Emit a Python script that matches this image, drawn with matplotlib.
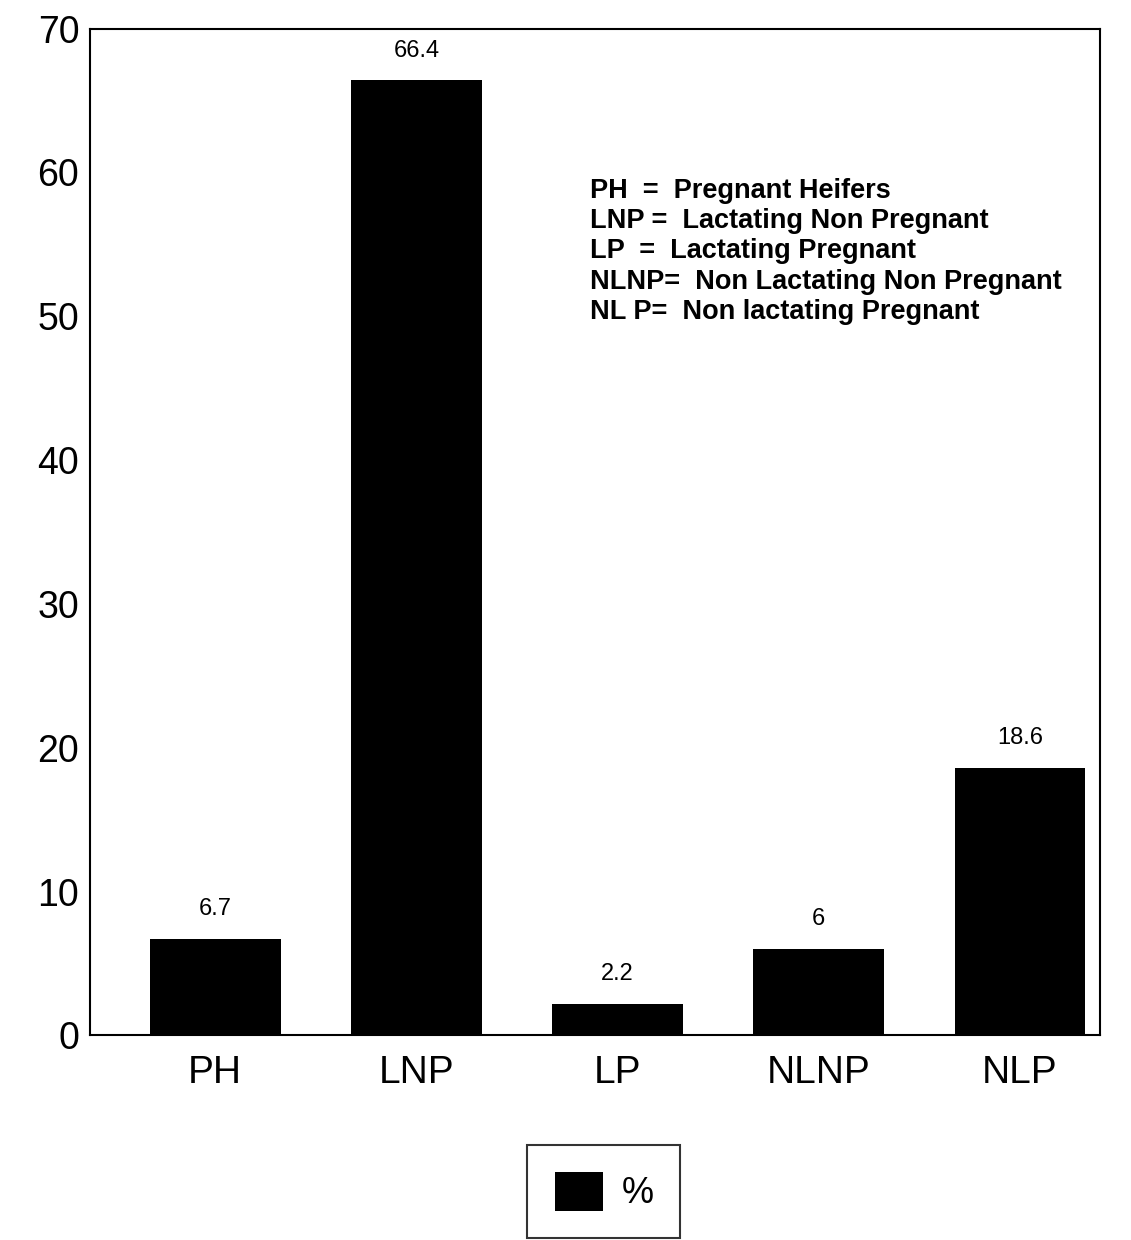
import matplotlib
matplotlib.use("Agg")
import matplotlib.pyplot as plt

categories = ["PH", "LNP", "LP", "NLNP", "NLP"]
values = [6.7, 66.4, 2.2, 6.0, 18.6]
value_labels = ["6.7", "66.4", "2.2", "6", "18.6"]
yticks = [0, 10, 20, 30, 40, 50, 60, 70]
key_lines = [
    "PH  =  Pregnant Heifers",
    "LNP =  Lactating Non Pregnant",
    "LP  =  Lactating Pregnant",
    "NLNP=  Non Lactating Non Pregnant",
    "NL P=  Non lactating Pregnant",
]

plt.rcParams['font.family'] = ['Liberation Sans', 'DejaVu Sans']

fig = plt.figure(figsize=(11.31, 12.4), dpi=100)
ax = fig.add_axes([0.08, 0.165, 0.893, 0.812])
x = list(range(len(categories)))
bars = ax.bar(x, values, width=0.65, color="black", label="%")
ax.set_ylim(0, 70)
ax.set_xlim(-0.62, 4.4)
ax.set_yticks(yticks)
ax.set_yticklabels([str(t) for t in yticks], fontsize=27)
ax.set_xticks(x)
ax.set_xticklabels(categories, fontsize=28)
ax.tick_params(axis='both', length=0, pad=8)
ax.tick_params(axis='x', pad=14)
for s in ax.spines.values():
    s.set_linewidth(1.5)

for xi, v, lab in zip(x, values, value_labels):
    ax.text(xi, v + 1.3, lab, ha='center', va='bottom', fontsize=17)

ax.text(0.495, 0.852, "\n".join(key_lines), transform=ax.transAxes,
        ha='left', va='top', fontsize=19.5, fontweight='bold', linespacing=1.22)

leg = fig.legend(handles=[bars], labels=["%"], loc='upper center',
                 bbox_to_anchor=(0.534, 0.077), borderaxespad=0, fontsize=26,
                 frameon=True, fancybox=False, edgecolor='black',
                 borderpad=0.75, handlelength=1.35, handleheight=1.3,
                 handletextpad=0.5)
leg.get_frame().set_linewidth(1.5)

fig.savefig("out.png", dpi=100)
